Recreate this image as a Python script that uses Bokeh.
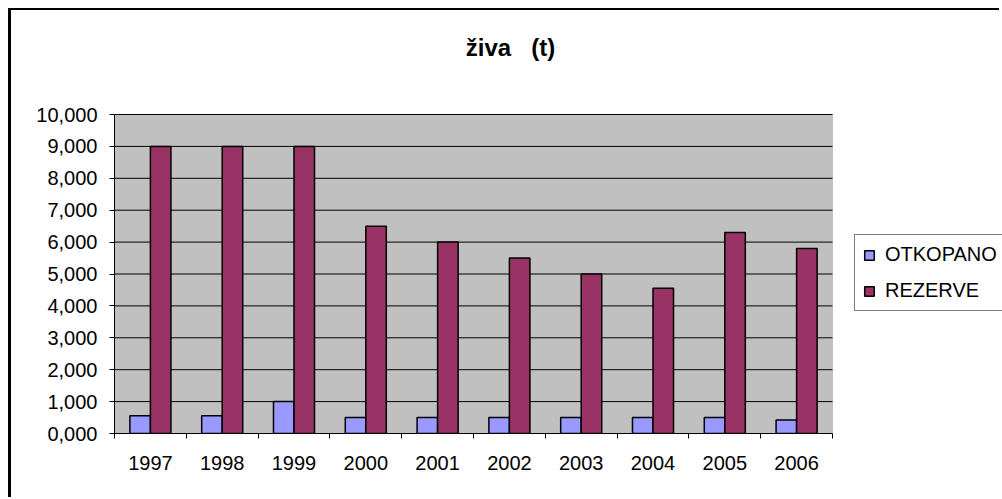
from bokeh.plotting import figure
from bokeh.models import (ColumnDataSource, FixedTicker, Legend, LegendItem, Label,
                          BoxAnnotation, Range1d, InlineStyleSheet)
from bokeh.transform import dodge
from bokeh.embed import file_html
from bokeh.resources import INLINE

years = [1997, 1998, 1999, 2000, 2001, 2002, 2003, 2004, 2005, 2006]
otkopano = [560, 560, 1000, 500, 500, 500, 500, 500, 500, 420]
rezerve = [9000, 9000, 9000, 6500, 6000, 5500, 5000, 4550, 6300, 5800]
y_ticks = [0, 1000, 2000, 3000, 4000, 5000, 6000, 7000, 8000, 9000, 10000]
y_tick_labels = ["0,000", "1,000", "2,000", "3,000", "4,000", "5,000",
                 "6,000", "7,000", "8,000", "9,000", "10,000"]
series_names = ["OTKOPANO", "REZERVE"]
title_text = "živa\u00a0\u00a0\u00a0(t)"

FONT = "Liberation Sans"
BLUE = "#9999FF"
RED = "#993366"

# layout (pixels)
W, H = 991, 489
LEFT, BOTTOM = 103, 66
AREA_W, AREA_H = 718, 319          # size of the gray plot area
frame_w = W - LEFT
frame_h = H - BOTTOM

x0 = years[0] - 0.5
x1 = years[-1] + 0.5
y_top = y_ticks[-1]

src = ColumnDataSource(dict(year=years, otk=otkopano, rez=rezerve))

p = figure(width=W, height=H, output_backend="svg", toolbar_location=None,
           x_range=Range1d(x0, x0 + (x1 - x0) * frame_w / AREA_W),
           y_range=Range1d(0, y_top * frame_h / AREA_H),
           min_border_left=LEFT, min_border_right=0,
           min_border_top=0, min_border_bottom=BOTTOM)
p.stylesheets = [InlineStyleSheet(css=":host { margin: 10px 0px 0px 11px; "
                                      "box-shadow: -3px -2px 0px 0px black; }")]

p.border_fill_color = "white"
p.background_fill_color = "white"
p.outline_line_color = None
p.xgrid.visible = False
p.ygrid.visible = False

# gray plot area
p.add_layout(BoxAnnotation(left=x0, right=x1, bottom=0, top=y_top,
                           fill_color="#C0C0C0", fill_alpha=1,
                           line_color="#808080", line_width=1, level="underlay"))

# horizontal gridlines
n = len(y_ticks)
p.segment(x0=[x0] * n, x1=[x1] * n, y0=y_ticks, y1=y_ticks,
          line_color="black", line_width=1)

bw = 1 / 3.5
r1 = p.vbar(x=dodge("year", -bw / 2), top="otk", width=bw, source=src,
            fill_color=BLUE, line_color="black", line_width=1.5)
r2 = p.vbar(x=dodge("year", bw / 2), top="rez", width=bw, source=src,
            fill_color=RED, line_color="black", line_width=1.5)

# y axis
p.yaxis.ticker = FixedTicker(ticks=y_ticks)
p.yaxis.bounds = (0, y_top)
p.yaxis.major_label_overrides = {t: l for t, l in zip(y_ticks, y_tick_labels)}
p.yaxis.major_label_text_font = FONT
p.yaxis.major_label_text_font_size = "20px"
p.yaxis.major_label_text_color = "black"
p.yaxis.major_tick_out = 5
p.yaxis.major_tick_in = 0
p.yaxis.minor_tick_line_color = None
p.yaxis.axis_line_color = "black"
p.yaxis.major_tick_line_color = "black"
p.yaxis.major_label_standoff = 12

# x axis
p.xaxis.ticker = FixedTicker(ticks=years,
                             minor_ticks=[y - 0.5 for y in years] + [years[-1] + 0.5])
p.xaxis.bounds = (x0, x1)
p.xaxis.major_label_overrides = {y: str(y) for y in years}
p.xaxis.major_label_text_font = FONT
p.xaxis.major_label_text_font_size = "20px"
p.xaxis.major_label_text_color = "black"
p.xaxis.major_tick_out = 0
p.xaxis.major_tick_in = 0
p.xaxis.minor_tick_out = 5
p.xaxis.minor_tick_in = 0
p.xaxis.minor_tick_line_color = "black"
p.xaxis.axis_line_color = "black"
p.xaxis.major_label_standoff = 17

# legend (inside the enlarged frame, to the right of the plot area)
legend = Legend(items=[LegendItem(label=series_names[0], renderers=[r1]),
                       LegendItem(label=series_names[1], renderers=[r2])],
                location=(740, 122),
                glyph_width=12, glyph_height=12, label_standoff=10,
                padding=8, spacing=13, margin=0,
                label_text_font=FONT, label_text_font_size="20px",
                label_text_color="black",
                border_line_color="black", border_line_width=1,
                background_fill_color="white", background_fill_alpha=1)
p.add_layout(legend)

# title
p.add_layout(Label(x=396, y=386, x_units="screen", y_units="screen",
                   text=title_text, text_align="center", text_baseline="alphabetic",
                   text_font=FONT, text_font_size="24px", text_font_style="bold",
                   text_color="black"))

open("out.html", "w").write(file_html(p, INLINE))
